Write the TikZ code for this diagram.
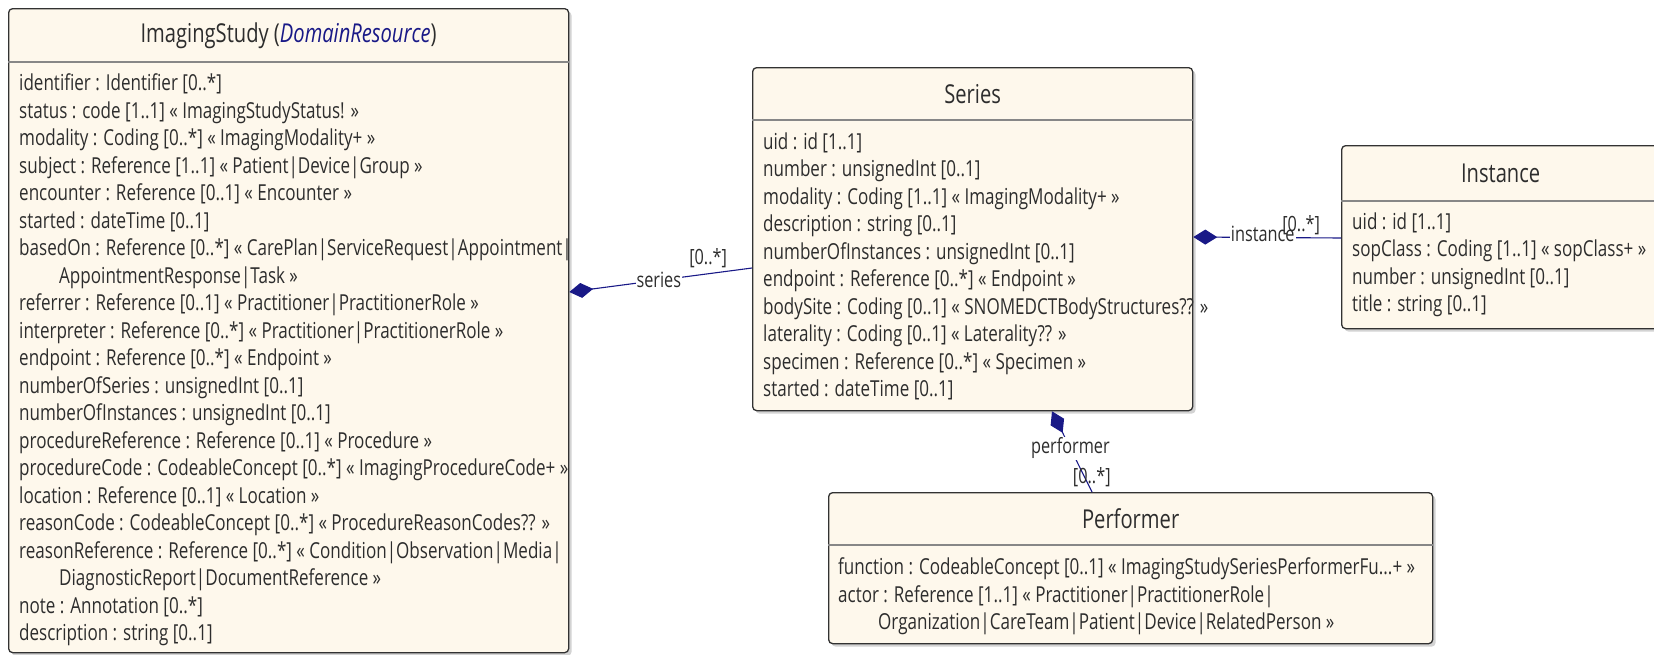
\documentclass[tikz,border=0pt]{standalone}
\usepackage{fontspec}
\setmainfont{Open Sans}[FakeStretch=0.775]
\usetikzlibrary{arrows.meta, positioning, shadows}
\definecolor{klassefill}{RGB}{254,248,236}
\definecolor{klasserand}{RGB}{50,50,50}
\definecolor{trenner}{RGB}{135,135,135}
\definecolor{schrift}{RGB}{45,45,45}
\definecolor{verbindung}{RGB}{25,25,135}

\begin{document}
\begin{tikzpicture}[
        x=1pt, y=-1pt,
        klasse/.style={
            rectangle,
            rounded corners=4pt,
            draw=klasserand,
            line width=1.3pt,
            fill=klassefill,
            anchor=north west,
            inner sep=0pt,
            drop shadow={shadow xshift=3pt, shadow yshift=-3pt, opacity=0.35}
        },
        trennlinie/.style={
            draw=trenner,
            line width=1.6pt
        },
        titel/.style={
            font=\fontsize{26}{30}\selectfont,
            text=schrift,
            inner sep=0pt
        },
        attribute/.style={
            font=\fontsize{22}{27.5}\selectfont,
            text=schrift,
            align=left,
            anchor=north west,
            inner sep=0pt
        },
        komposition/.style={
            {Diamond[length=24pt, width=15pt, fill=verbindung]}-,
            draw=verbindung,
            line width=1.1pt
        },
        rolle/.style={
            font=\fontsize{21}{24}\selectfont,
            text=schrift,
            fill=white,
            inner sep=1pt
        },
        kardinal/.style={
            font=\fontsize{21}{24}\selectfont,
            text=schrift,
            inner sep=1pt
        }
    ]
    \useasboundingbox (0,0) rectangle (1654,654);

    % Klassen
    \node[klasse, minimum width=560pt, minimum height=644pt] (study) at (8,8) {};
    \node[klasse, minimum width=440pt, minimum height=343pt] (series) at (752,67) {};
    \node[klasse, minimum width=318pt, minimum height=183pt] (instance) at (1341,145) {};
    \node[klasse, minimum width=604pt, minimum height=151pt] (performer) at (828,492) {};

    \draw[trennlinie] ([yshift=-54pt]study.north west) -- ([yshift=-54pt]study.north east);
    \draw[trennlinie] ([yshift=-53pt]series.north west) -- ([yshift=-53pt]series.north east);
    \draw[trennlinie] ([yshift=-56pt]instance.north west) -- ([yshift=-56pt]instance.north east);
    \draw[trennlinie] ([yshift=-53pt]performer.north west) -- ([yshift=-53pt]performer.north east);

    \node[titel] (studyTitel) at ([yshift=-28pt]study.north)
        {ImagingStudy (\textcolor{verbindung}{\itshape DomainResource})};
    \node[titel] (seriesTitel) at ([yshift=-27pt]series.north) {Series};
    \node[titel] (instanceTitel) at ([yshift=-28pt]instance.north) {Instance};
    \node[titel] (performerTitel) at ([yshift=-27pt]performer.north) {Performer};

    \node[attribute] (studyAttr) at ([xshift=11pt, yshift=-65.5pt]study.north west) {
        identifier : Identifier [0..*]\\
        status : code [1..1] « ImagingStudyStatus! »\\
        modality : Coding [0..*] « ImagingModality+ »\\
        subject : Reference [1..1] « Patient|Device|Group »\\
        encounter : Reference [0..1] « Encounter »\\
        started : dateTime [0..1]\\
        basedOn : Reference [0..*] « CarePlan|ServiceRequest|Appointment|\\
        \hspace*{40pt}AppointmentResponse|Task »\\
        referrer : Reference [0..1] « Practitioner|PractitionerRole »\\
        interpreter : Reference [0..*] « Practitioner|PractitionerRole »\\
        endpoint : Reference [0..*] « Endpoint »\\
        numberOfSeries : unsignedInt [0..1]\\
        numberOfInstances : unsignedInt [0..1]\\
        procedureReference : Reference [0..1] « Procedure »\\
        procedureCode : CodeableConcept [0..*] « ImagingProcedureCode+ »\\
        location : Reference [0..1] « Location »\\
        reasonCode : CodeableConcept [0..*] « ProcedureReasonCodes?? »\\
        reasonReference : Reference [0..*] « Condition|Observation|Media|\\
        \hspace*{40pt}DiagnosticReport|DocumentReference »\\
        note : Annotation [0..*]\\
        description : string [0..1]
    };

    \node[attribute] (seriesAttr) at ([xshift=11pt, yshift=-65.5pt]series.north west) {
        uid : id [1..1]\\
        number : unsignedInt [0..1]\\
        modality : Coding [1..1] « ImagingModality+ »\\
        description : string [0..1]\\
        numberOfInstances : unsignedInt [0..1]\\
        endpoint : Reference [0..*] « Endpoint »\\
        bodySite : Coding [0..1] « SNOMEDCTBodyStructures?? »\\
        laterality : Coding [0..1] « Laterality?? »\\
        specimen : Reference [0..*] « Specimen »\\
        started : dateTime [0..1]
    };

    \node[attribute] (instanceAttr) at ([xshift=11pt, yshift=-67.5pt]instance.north west) {
        uid : id [1..1]\\
        sopClass : Coding [1..1] « sopClass+ »\\
        number : unsignedInt [0..1]\\
        title : string [0..1]
    };

    \node[attribute] (performerAttr) at ([xshift=10pt, yshift=-65.5pt]performer.north west) {
        function : CodeableConcept [0..1] « ImagingStudySeriesPerformerFu...+ »\\
        actor : Reference [1..1] « Practitioner|PractitionerRole|\\
        \hspace*{40pt}Organization|CareTeam|Patient|Device|RelatedPerson »
    };

    % Assoziationen
    \draw[komposition] (study.east |- 0,292) --
        node[pos=0.49, rolle]{series}
        node[pos=0.76, above=4pt, kardinal]{[0..*]}
        (series.west |- 0,268);

    \draw[komposition] (series.east |- 0,237) --
        node[pos=0.47, rolle, yshift=4pt]{instance}
        node[pos=0.73, kardinal, yshift=13pt]{[0..*]}
        (instance.west |- 0,238);

    \draw[komposition] (series.south -| 1052,0) --
        node[pos=0.46, rolle]{performer}
        node[pos=0.82, kardinal, xshift=7pt]{[0..*]}
        (performer.north -| 1092,0);

\end{tikzpicture}
\end{document}
